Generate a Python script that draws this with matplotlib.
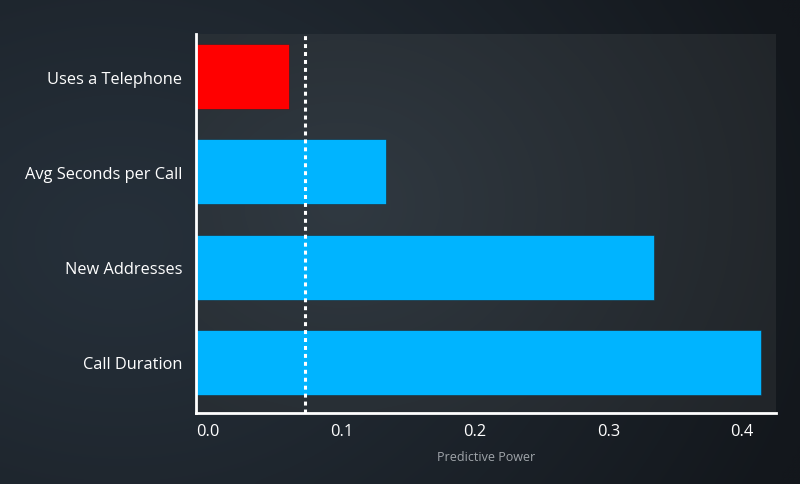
import numpy as np
import matplotlib
matplotlib.use("Agg")
import matplotlib.pyplot as plt

categories = ["Uses a Telephone", "Avg Seconds per Call", "New Addresses", "Call Duration"]
values = [0.0696, 0.142, 0.343, 0.4226]
bar_colors = ["#ff0000", "#00b4ff", "#00b4ff", "#00b4ff"]
threshold = 0.0815
xticks = [0.0, 0.1, 0.2, 0.3, 0.4]
xtick_labels = ["0.0", "0.1", "0.2", "0.3", "0.4"]
xlabel = "Predictive Power"

plt.rcParams['font.family'] = ['Open Sans', 'DejaVu Sans']

fig = plt.figure(figsize=(8, 4.85), dpi=100)

# figure background gradient
bg = fig.add_axes([0, 0, 1, 1], zorder=-10)
bg.axis('off')
H, W = 97, 160
yy, xx = np.mgrid[0:H, 0:W]
xf = xx / (W - 1)
yf = yy / (H - 1)
d = np.sqrt(((xf - 0.15) / 1.0) ** 2 + ((yf - 0.5) / 1.3) ** 2)
t = np.clip(d / 0.9, 0, 1) ** 1.2
c_light = np.array([0x26, 0x30, 0x3a]) / 255
c_dark = np.array([0x13, 0x17, 0x1c]) / 255
img = c_light[None, None, :] * (1 - t[..., None]) + c_dark[None, None, :] * t[..., None]
bg.imshow(img, extent=[0, 1, 0, 1], aspect='auto', interpolation='bicubic')
bg.set_xlim(0, 1); bg.set_ylim(0, 1)

ax = fig.add_axes([0.245, 0.1464, 0.725, 0.7814])
ax.set_facecolor('none')

# plot-area gradient
h2, w2 = 60, 120
yy2, xx2 = np.mgrid[0:h2, 0:w2]
xf2 = xx2 / (w2 - 1)
yf2 = yy2 / (h2 - 1)
d2 = np.sqrt(((xf2 - 0.25) / 1.0) ** 2 + ((yf2 - 0.45) / 1.3) ** 2)
t2 = np.clip(d2 / 0.85, 0, 1)
p_light = np.array([0x30, 0x39, 0x41]) / 255
p_dark = np.array([0x21, 0x25, 0x29]) / 255
img2 = p_light[None, None, :] * (1 - t2[..., None]) + p_dark[None, None, :] * t2[..., None]
ax.imshow(img2, extent=[0, 1, 0, 1], transform=ax.transAxes, aspect='auto',
          interpolation='bicubic', zorder=0)

ypos = np.arange(len(categories))
ax.barh(ypos, values, height=0.68, color=bar_colors, edgecolor='#20262c',
        linewidth=0.4, zorder=2)
ax.axvline(threshold, color='white', linestyle=(0, (1.3, 1.3)), linewidth=2.2, zorder=3)

ax.set_xlim(0, 0.434)
ax.set_ylim(3.53, -0.446)
ax.set_yticks(ypos)
ax.set_yticklabels(categories)
ax.set_xticks(xticks)
ax.set_xticklabels(xtick_labels)
for lbl in ax.get_xticklabels():
    lbl.set_horizontalalignment('left')

ax.tick_params(axis='both', length=0, colors='white', labelsize=11.8)
ax.tick_params(axis='y', pad=10)
ax.tick_params(axis='x', pad=7)
ax.set_xlabel(xlabel, color='#a0a5aa', fontsize=9, labelpad=8)

for s in ['top', 'right']:
    ax.spines[s].set_visible(False)
for s in ['left', 'bottom']:
    ax.spines[s].set_color('white')
    ax.spines[s].set_linewidth(2)
    ax.spines[s].set_zorder(4)

fig.savefig("out.png", dpi=100)
